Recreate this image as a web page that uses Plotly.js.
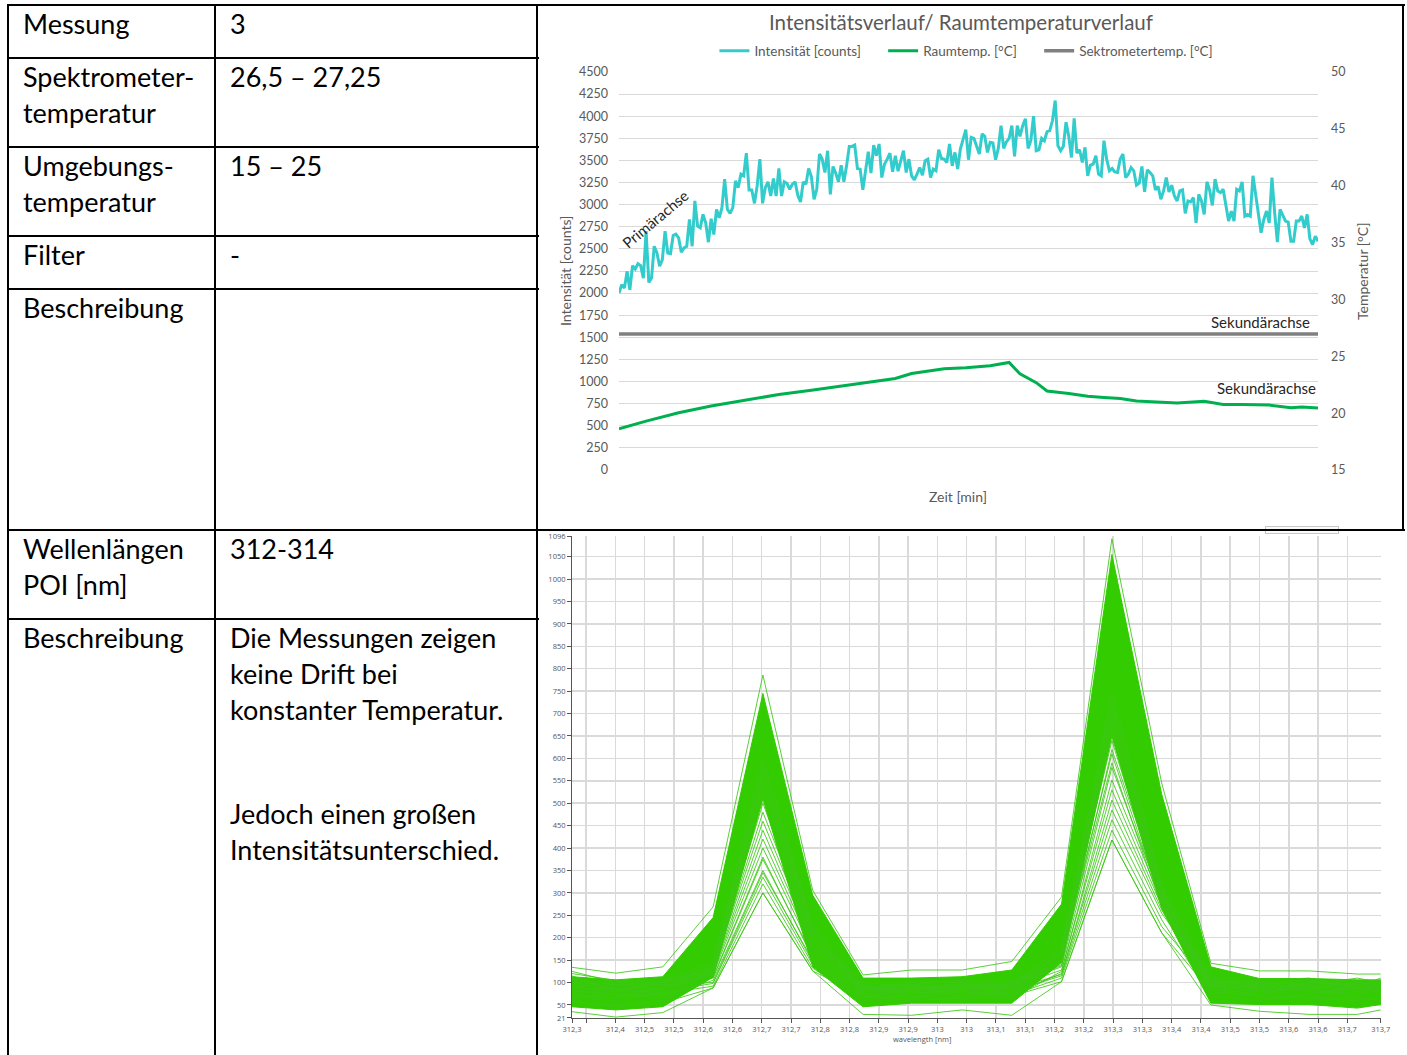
<!DOCTYPE html>
<html><head><meta charset="utf-8">
<script src="https://cdn.plot.ly/plotly-3.0.1.min.js"></script>
<style>
html,body{margin:0;padding:0;background:#fff;width:1407px;height:1055px;overflow:hidden;}
.txt{position:absolute;font-family:Lato,"Open Sans",sans-serif;font-size:27px;line-height:36px;color:#000;white-space:nowrap;}
.hl{position:absolute;background:#000;height:1.6px;z-index:5}
.vl{position:absolute;background:#000;width:1.6px;z-index:5}
#top{position:absolute;left:538px;top:6px;width:865px;height:524px;}
#bot{position:absolute;left:538px;top:531px;width:865px;height:524px;}
#box{position:absolute;left:1265px;top:526px;width:72px;height:6px;border:1px solid #c8c8c8;background:#fafafa;z-index:3}
</style></head>
<body>
<div id="top"></div>
<div id="bot"></div>
<div id="box"></div>
<div id="grid"></div>
<div id="texts"></div>
<script>
// ---------- table content ----------
var tableLabels = [["Messung"],["Spektrometer-","temperatur"],["Umgebungs-","temperatur"],["Filter"],["Beschreibung"],["Wellenlängen","POI [nm]"],["Beschreibung"]];
var tableValues = [["3"],["26,5 – 27,25"],["15 – 25"],["-"],[""],["312-314"],["Die Messungen zeigen","keine Drift bei","konstanter Temperatur."]];
var tableNote = ["Jedoch einen großen","Intensitätsunterschied."];

// ---------- top chart data ----------
var chartTitle = "Intensitätsverlauf/ Raumtemperaturverlauf";
var seriesNames = ["Intensität [counts]", "Raumtemp. [°C]", "Sektrometertemp. [°C]"];
var intensity = [2000,2095,2057,2246,2038,2310,2272,2333,2310,2170,
2700,2121,2170,2530,2454,2303,2379,2700,2454,2447,
2651,2667,2625,2462,2511,2530,2833,2530,3042,2757,
2738,2890,2795,2576,2841,2663,2947,2852,2966,3288,
2947,2901,2966,3269,3193,3345,3326,3583,3167,3167,
3015,3212,3515,3015,3193,3258,3098,3296,3098,3409,
3098,3258,3242,3174,3231,3258,3106,3030,3258,3231,
3409,3318,3061,3174,3572,3515,3364,3610,3117,3432,
3356,3258,3447,3258,3439,3659,3659,3674,3409,3402,
3167,3402,3599,3356,3674,3553,3686,3307,3458,3515,
3583,3372,3553,3379,3496,3610,3364,3515,3326,3280,
3345,3420,3333,3496,3515,3307,3402,3383,3621,3523,
3515,3477,3686,3439,3591,3402,3629,3742,3848,3508,
3761,
3750,3659,3572,3799,3773,3591,3705,3697,3508,3636,
3894,3636,3712,3750,3894,3545,3894,3773,3894,3970,
3636,3723,4000,3610,3621,3750,3723,3826,3837,3951,
4178,3667,3610,3659,3932,3773,3534,3977,3583,3621,
3477,3648,3326,3447,3458,3553,3345,3326,3723,3515,
3383,3409,3371,3364,3515,3572,3307,3345,3420,3383,
3220,3242,3432,3144,3394,3364,3326,3167,3205,3061,
3155,3307,3144,3220,3098,3042,3155,3167,2901,3042,
3030,3080,2795,3117,3042,2890,3258,3167,2992,3288,
3155,3136,3174,2992,2814,2928,2814,3174,3155,3258,
2871,2890,2871,3326,3117,2890,2682,2833,2928,2795,
3307,2909,2576,2947,2871,2814,2803,2587,2587,2814,
2814,2871,2738,2890,2614,2549,2644,2587];
var raumTime = [0,10,22,34,47,59,71,83,96,102,108,114,120,128,131,137,144,148,154,158,166,173,179,185,191,197,206,216,223,230,240,248,252,258];
var raumTemp = [18.63,19.30,20.03,20.62,21.15,21.64,22.02,22.43,22.81,23.05,23.49,23.69,23.90,23.99,24.05,24.17,24.46,23.45,22.68,21.95,21.73,21.49,21.37,21.28,21.07,20.98,20.89,21.04,20.77,20.77,20.71,20.48,20.54,20.45];
var spekTime = [0,258];
var spekTemp = [26.95,26.95];

// ---------- bottom chart data ----------
var wavelength = [312.336,312.411,312.491,312.577,312.662,312.747,312.833,312.916,313.002,313.087,313.172,313.258,313.343,313.427,313.510,313.595,313.677,313.717];
var bandTop    = [113,106,113,245,745,295,110,110,113,128,275,1055,520,135,109,109,106,106];
var bandBottom = [46,39,46,112,510,135,46,54,54,54,145,650,265,54,51,51,43,51];
var spectrumMax = [134,121,135,269,786,306,117,128,128,147,291,1090,545,143,126,126,119,119];
var spectrumMin = [35,23,33,88,300,126,29,27,39,27,102,418,211,50,36,29,29,39];
var spectraLow = [
 [60,45,55,88,300,126,70,60,65,70,102,418,211,80,70,65,60,70],
 [95,70,75,92,320,132,60,75,80,72,110,440,225,95,80,85,75,90],
 [70,60,80,98,335,140,75,70,65,80,115,463,240,70,60,75,90,80],
 [110,85,95,100,345,150,85,80,85,75,120,485,255,100,95,80,70,85],
 [80,90,70,105,350,145,65,90,75,85,118,507,262,85,75,90,85,95],
 [125,100,110,110,375,160,90,85,95,90,128,530,270,105,100,95,110,100],
 [55,50,60,112,380,155,70,65,80,65,125,552,280,75,85,70,65,60],
 [100,95,85,118,400,170,80,95,90,95,135,580,285,90,70,100,95,105],
 [75,65,90,122,420,175,95,75,85,100,140,620,292,110,90,85,100,75],
 [120,105,100,125,440,182,85,100,100,90,138,660,298,95,105,110,90,110],
 [90,80,105,130,460,190,100,90,95,105,145,700,305,100,85,95,105,85],
 [65,75,65,128,480,195,75,80,70,85,150,720,310,85,95,80,75,95],
 [105,95,95,132,500,200,90,95,105,95,148,750,315,115,100,105,95,100],
 [85,70,90,120,530,205,80,85,90,80,152,590,268,95,80,90,85,90],
 [100,85,75,125,545,210,90,75,85,95,160,610,275,105,90,85,80,100],
 [70,95,100,130,560,215,70,90,80,90,165,640,282,90,100,95,90,80],
 [115,80,85,135,575,220,95,80,95,85,170,670,290,110,85,100,95,105],
 [90,100,95,140,590,225,85,95,85,100,175,690,300,100,95,90,100,95],
 [80,75,105,145,600,230,80,85,100,90,180,730,310,95,90,105,85,90]
];
var waveTicks = [312.336,312.36,312.41,312.46,312.51,312.56,312.61,312.66,312.71,312.76,312.81,312.86,312.91,312.96,313.01,313.06,313.11,313.16,313.21,313.26,313.31,313.36,313.41,313.46,313.51,313.56,313.61,313.66,313.717];
var waveTickText = ["312,3","","312,4","312,5","312,5","312,6","312,6","312,7","312,7","312,8","312,8","312,9","312,9","313","313","313,1","313,1","313,2","313,2","313,3","313,3","313,4","313,4","313,5","313,5","313,6","313,6","313,7","313,7"];
var countTicks = [21,50,100,150,200,250,300,350,400,450,500,550,600,650,700,750,800,850,900,950,1000,1050,1096];

// ---------- table drawing ----------
var rowTops = [5,58,147,236,289,530,619];
var colX = [8,215,537,1403];
var g = document.getElementById('grid');
function hl(x1,x2,y){var d=document.createElement('div');d.className='hl';d.style.left=x1+'px';d.style.top=(y-0.8)+'px';d.style.width=(x2-x1+1.6)+'px';g.appendChild(d);}
function vl(x,y1,y2){var d=document.createElement('div');d.className='vl';d.style.left=(x-0.8)+'px';d.style.top=y1+'px';d.style.height=(y2-y1)+'px';g.appendChild(d);}
hl(colX[0]-0.8,colX[3],rowTops[0]);
rowTops.slice(1).forEach(function(y){ hl(colX[0]-0.8, y===530?colX[3]:colX[2], y); });
vl(colX[0],rowTops[0]-0.8,1055); vl(colX[1],rowTops[0]-0.8,1055); vl(colX[2],rowTops[0]-0.8,1055); vl(colX[3],rowTops[0]-0.8,531);
var t = document.getElementById('texts');
function addText(lines,x,y){var d=document.createElement('div');d.className='txt';d.style.left=x+'px';d.style.top=y+'px';d.innerHTML=lines.join('<br>');t.appendChild(d);}
for (var i=0;i<rowTops.length;i++){ addText(tableLabels[i],23,rowTops[i]+1); addText(tableValues[i],230,rowTops[i]+1); }
addText(tableNote,230,796);

// ---------- top chart ----------
var grey = '#595959';
var pad = '\u00a0\u00a0\u00a0\u00a0\u00a0';
var idx = intensity.map(function(v,i){return i;});
var topTraces = [
 {x: idx, y: intensity, type:'scatter', mode:'lines', name:seriesNames[0]+pad, line:{color:'#33CCCC', width:3}, yaxis:'y'},
 {x: raumTime, y: raumTemp, type:'scatter', mode:'lines', name:seriesNames[1]+pad, line:{color:'#00B050', width:3}, yaxis:'y2'},
 {x: spekTime, y: spekTemp, type:'scatter', mode:'lines', name:seriesNames[2], line:{color:'#808080', width:3.5}, yaxis:'y2'}
];
var topLayout = {
 width:865, height:524, margin:{l:81,r:85,t:66,b:60},
 paper_bgcolor:'#fff', plot_bgcolor:'#fff',
 font:{family:'Lato, "Open Sans", sans-serif', color:grey, size:12},
 title:{text:chartTitle, font:{size:20.5,color:grey}, x:0.489, xanchor:'center', y:0.967, yanchor:'middle'},
 showlegend:true,
 legend:{orientation:'h', x:0.497, xanchor:'center', y:1.053, yanchor:'middle', font:{size:13.5,color:grey}, itemwidth:30, tracegroupgap:0},
 xaxis:{range:[0,258], showgrid:false, zeroline:false, showticklabels:false, ticks:'', showline:false},
 yaxis:{range:[0,4500], dtick:250, tick0:0, showgrid:true, gridcolor:'#d9d9d9', gridwidth:1, zeroline:false, ticks:'', ticklabelstandoff:10, tickfont:{size:12.5,color:grey}, showline:false},
 yaxis2:{range:[15,50], dtick:5, tick0:15, overlaying:'y', side:'right', showgrid:false, zeroline:false, ticks:'', ticklabelstandoff:12, tickfont:{size:12.5,color:grey}, showline:false},
 annotations:[
  {text:'Intensität [counts]', xref:'paper', yref:'paper', x:0, y:0.5, xanchor:'center', yanchor:'middle', xshift:-54, textangle:-90, showarrow:false, font:{size:14,color:grey}},
  {text:'Temperatur [°C]', xref:'paper', yref:'paper', x:1, y:0.5, xanchor:'center', yanchor:'middle', xshift:44, textangle:-90, showarrow:false, font:{size:14,color:grey}},
  {text:'Zeit [min]', xref:'paper', yref:'paper', x:0.5, y:0, xanchor:'center', yanchor:'middle', yshift:-26, xshift:-11, showarrow:false, font:{size:14,color:grey}},
  {text:'Primärachse', xref:'paper', yref:'paper', x:(655-619)/699, y:(470-219)/398, xanchor:'center', yanchor:'middle', textangle:-40, showarrow:false, font:{size:15,color:'#262626'}},
  {text:'Sekundärachse', xref:'paper', yref:'paper', x:(1312-619)/699, xanchor:'right', yanchor:'middle', y:(470-322)/398, showarrow:false, font:{size:15,color:'#262626'}},
  {text:'Sekundärachse', xref:'paper', yref:'paper', x:(1318-619)/699, xanchor:'right', yanchor:'middle', y:(470-388)/398, showarrow:false, font:{size:15,color:'#262626'}}
 ]
};
Plotly.newPlot('top', topTraces, topLayout, {staticPlot:true, displayModeBar:false});

// ---------- bottom chart ----------
var green = '#33cc00';
var lineGreen = 'rgba(60,200,20,0.85)';
var botTraces = [];
botTraces.push({x: wavelength.concat(wavelength.slice().reverse()), y: bandTop.concat(bandBottom.slice().reverse()), type:'scatter', mode:'lines', fill:'toself', fillcolor:green, line:{color:green, width:1}});
spectraLow.forEach(function(s){ botTraces.push({x: wavelength, y: s, type:'scatter', mode:'lines', line:{color:lineGreen, width:1}}); });
botTraces.push({x: wavelength, y: spectrumMax, type:'scatter', mode:'lines', line:{color:lineGreen, width:1}});
botTraces.push({x: wavelength, y: spectrumMin, type:'scatter', mode:'lines', line:{color:lineGreen, width:1}});
var botLayout = {
 width:865, height:524, margin:{l:34,r:22,t:5,b:37},
 paper_bgcolor:'#fff', plot_bgcolor:'#fff', showlegend:false,
 font:{family:'"Open Sans", Lato, sans-serif', color:'#444', size:7},
 xaxis:{range:[312.336,313.7175], tickvals:waveTicks, ticktext:waveTickText, showgrid:true, gridcolor:'#dadada', gridwidth:1.5, zeroline:false, showline:true, linecolor:'#555', linewidth:1, ticks:'outside', ticklen:4, tickcolor:'#555', tickfont:{size:7.5,color:'#555'}, tickangle:0, ticklabeloverflow:'allow'},
 yaxis:{range:[20.95,1096.1], tickvals:countTicks, showgrid:true, gridcolor:'#dadada', gridwidth:1.5, zeroline:false, showline:true, linecolor:'#555', linewidth:1, ticks:'outside', ticklen:4, tickcolor:'#555', tickfont:{size:7.5,color:'#555'}, ticklabeloverflow:'allow'},
 annotations:[{text:'wavelength [nm]', xref:'paper', yref:'paper', x:(922-572)/809, y:0, xanchor:'center', yanchor:'middle', yshift:-21, showarrow:false, font:{size:7.5,color:'#555'}}]
};
Plotly.newPlot('bot', botTraces, botLayout, {staticPlot:true, displayModeBar:false});
</script>
</body></html>
